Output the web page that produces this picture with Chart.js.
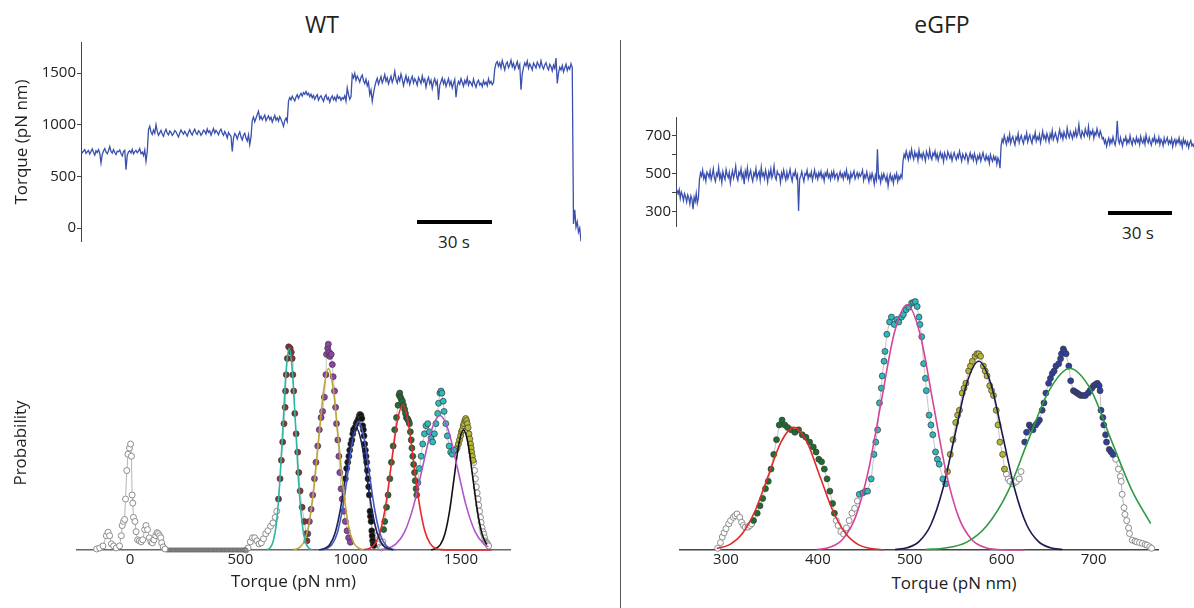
<!DOCTYPE html>
<html><head><meta charset="utf-8">
<script src="https://cdn.jsdelivr.net/npm/chart.js@4/dist/chart.umd.min.js"></script>
<style>
 body{margin:0;width:1194px;height:608px;overflow:hidden;background:#fff;font-family:"Open Sans",sans-serif;color:#222;position:relative}
 canvas{position:absolute}
 .lbl{position:absolute;white-space:nowrap;transform:translate(-50%,-50%);line-height:1}
 .bar{position:absolute;background:#000;height:4px}
</style></head><body>
<div class="lbl" style="left:322px;top:24px;font-size:23px">WT</div>
<div class="lbl" style="left:942px;top:24px;font-size:23px">eGFP</div>
<div style="position:absolute;left:620px;top:40px;width:1px;height:568px;background:#555"></div>
<div class="bar" style="left:417px;top:220px;width:75px"></div>
<div class="lbl" style="left:454px;top:241px;font-size:17px">30 s</div>
<div class="bar" style="left:1108px;top:211px;width:64px"></div>
<div class="lbl" style="left:1138px;top:232px;font-size:17px">30 s</div>
<div class="lbl" style="left:954px;top:582px;font-size:17px">Torque (pN nm)</div>

<canvas id="wtTrace" width="581" height="200" style="left:0;top:42px"></canvas>
<canvas id="gfpTrace" width="578" height="110" style="left:616px;top:117px"></canvas>
<canvas id="wtHist" width="515" height="264" style="left:0;top:331px"></canvas>
<canvas id="gfpHist" width="488" height="290" style="left:675px;top:290px"></canvas>

<script>
// ===== TRACES (torque, pN nm, every 0.5 s) =====
const wtStep=0.5;
const wtTorque=[
 752,728,745,760,722,738,751,716,741,765,733,706,748,730,759,724,630,712,745,768,736,719,748,790,742,725,760,731,712,744,738,755,721,697,739,752,565,705,736,748,726,761,717,738,752,729,744,768,720,735,702,755,645,738,
 952,985,930,905,948,918,1000,935,897,921,944,910,888,930,955,917,902,938,925,896,914,942,931,905,880,919,948,926,908,936,912,890,927,951,918,899,933,957,921,906,941,928,897,915,946,934,910,958,925,940,899,932,962,918,945,927,903,939,956,920,897,934,910,872,925,903,888,742,870,915,897,861,904,930,880,852,898,917,871,842,902,806,880,
 1040,1075,1028,1062,1098,1130,1055,1082,1046,1070,1093,1038,1064,1085,1049,1072,1026,1058,1090,1044,1067,1035,1078,1052,1020,984,1041,1063,1030,
 1228,1262,1240,1275,1251,1230,1268,1290,1255,1283,1302,1276,1310,1295,1322,1288,1305,1271,1296,1260,1284,1247,1272,1291,1238,1265,1280,1252,1226,1270,1289,1244,1263,1218,1258,1279,1241,1266,1232,1285,1254,1270,1236,1262,1249,1281,1228,1355,1290,1246,1273,
 1484,1452,1497,1430,1470,1445,1412,1458,1480,1425,1398,1440,1376,1410,1290,1335,1226,1302,1368,1415,1450,1392,1428,1466,1405,1438,1486,1420,1455,1395,
 1432,1470,1410,1448,1516,1436,1402,1462,1425,1490,1444,1378,1430,1474,1412,1452,1388,1436,1468,1405,1445,1420,1382,1456,1430,1398,1472,1416,1440,1362,
 1425,1458,1395,1430,1350,1412,1446,1388,1422,1240,1380,1415,1452,1396,1432,1370,1408,1445,1382,1420,1356,1400,1438,1265,1375,1418,1392,1446,1410,1372,
 1428,1398,1455,1384,1420,1402,1376,1440,1395,1362,1410,1430,1385,1402,1368,1425,1390,1412,1378,1445,1398,1420,1386,1408,
 1540,1592,1610,1565,1598,1548,1620,1575,1530,1588,1605,1552,1580,1625,1560,1594,1538,1572,1610,1548,1582,1339,1490,1555,1598,1570,1615,1545,1588,1562,
 1530,1596,1574,1548,1605,1580,1552,1618,1566,1540,1578,1600,1555,1530,1584,1562,1520,1575,1545,1645,1400,1498,1556,1530,1572,1510,1548,1585,1525,1560,1538,1590,1552,
 40,176,10,60,-40,0,-130
];
const gfpStep=0.5;
const gfpTorque=[
 428,412,395,418,372,405,388,360,396,380,352,390,374,342,385,366,314,378,355,398,346,372,
 470,505,488,520,476,495,462,510,498,482,515,470,493,527,480,461,502,489,534,476,
 498,455,512,486,470,523,495,480,508,452,490,517,478,502,541,485,466,509,493,527,
 479,500,446,514,488,531,472,496,519,483,461,505,490,528,475,498,512,468,535,489,
 503,476,520,494,458,510,487,526,480,499,541,485,470,513,496,498,455,505,482,520,
 491,468,509,477,498,524,486,462,503,492,517,478,495,305,471,489,512,484,460,501,
 493,519,476,498,485,510,467,494,521,482,499,472,507,488,513,479,496,463,504,490,
 516,481,497,470,508,486,514,477,495,502,468,490,511,484,499,473,506,488,520,476,
 493,461,505,482,498,515,474,491,507,480,502,487,500,520,466,494,479,510,483,458,
 497,472,503,481,446,492,469,630,478,488,455,496,474,501,483,462,490,437,476,499,
 468,485,451,493,477,502,460,488,472,495,481,
 568,602,585,620,596,574,611,588,630,598,577,615,592,606,571,624,589,603,580,612,
 595,568,618,600,584,627,591,576,609,597,620,582,605,571,596,614,587,603,565,610,
 592,578,616,599,583,606,570,595,612,588,574,601,585,619,593,567,604,589,577,608,
 596,562,590,611,583,598,572,607,586,560,594,579,603,568,591,612,584,570,598,575,
 589,556,601,580,566,593,575,588,551,584,570,530,
 648,682,665,701,676,655,690,672,708,661,684,697,670,652,693,679,711,664,688,702,
 675,659,696,683,715,668,690,705,677,661,699,686,718,672,694,681,707,663,690,724,
 686,701,675,712,693,668,709,688,727,680,698,715,690,671,706,732,694,712,683,720,
 699,688,741,707,691,722,704,685,718,700,732,696,713,759,708,690,725,711,697,736,
 715,702,748,693,721,709,730,688,717,704,738,712,695,726,708,684,
 690,662,678,645,671,688,656,680,663,694,669,652,684,779,676,660,691,667,648,682,
 673,695,658,679,664,701,670,652,686,675,660,692,668,681,654,697,673,662,688,657,
 705,676,663,690,668,651,684,672,698,661,679,666,693,655,682,670,648,688,663,676,
 690,657,674,661,685,643,670,682,652,677,664,689,656,672,641,683,660,674,650,668,
 638,662,676,648,657,640
];

// ===== WT HISTOGRAM [torque, probability] =====
const wtGrayA=[[-152,0.005],[-138,0.01],[-123,0.02],[-108,0.07],[-100,0.087],[-93,0.07],[-85,0.03],[-75,0.02],[-63,0.01],[-48,0.02],[-40,0.07],[-36,0.12],[-30,0.14],[-25,0.15],[-21,0.25],[-15,0.39],[-10,0.47],[-3,0.5],[2,0.52],[6,0.46],[9,0.27],[12,0.23],[15,0.16],[22,0.14],[27,0.09],[34,0.05],[42,0.045],[50,0.04],[57,0.05],[66,0.1],[72,0.12],[79,0.1],[87,0.06],[94,0.04],[101,0.035],[108,0.05],[116,0.07],[122,0.085],[128,0.08],[134,0.07],[139,0.06],[143,0.035],[150,0.015],[158,0.005]];
const wtGrayZero=[[166,0],[172,0],[178,0],[184,0],[190,0],[196,0],[202,0],[208,0],[214,0],[220,0],[226,0],[232,0],[238,0],[244,0],[250,0],[256,0],[262,0],[268,0],[274,0],[280,0],[286,0],[292,0],[298,0],[304,0],[310,0],[316,0],[322,0],[328,0],[334,0],[340,0],[346,0],[352,0],[358,0],[364,0],[370,0],[376,0],[382,0],[388,0],[394,0],[400,0],[406,0],[412,0],[418,0],[424,0],[430,0],[436,0],[442,0],[448,0],[454,0],[460,0],[466,0],[472,0],[478,0],[484,0],[490,0],[496,0],[502,0],[508,0],[514,0],[520,0],[526,0]];
const wtGrayRise=[[526,0],[535,0.01],[545,0.04],[555,0.06],[565,0.06],[575,0.045],[585,0.03],[595,0.035],[605,0.055],[615,0.08],[625,0.095],[637,0.117],[648,0.133],[658,0.16],[665,0.19]];
const wtGrayB=[[1108,0.03],[1113,0.06],[1118,0.07],[1123,0.05],[1129,0.03],[1135,0.015],[1141,0.01],[1146,0.04]];
const wtGrayC=[[1559,0.43],[1562,0.39],[1566,0.35],[1570,0.31],[1574,0.28],[1578,0.25],[1581,0.22],[1585,0.19],[1589,0.16],[1592,0.135],[1596,0.11],[1600,0.09],[1604,0.077],[1608,0.06],[1611,0.045],[1615,0.038],[1619,0.033],[1623,0.026],[1626,0.02]];
const wtDots1=[[673,0.25],[680,0.35],[686,0.44],[692,0.53],[698,0.62],[703,0.7],[705,0.78],[708,0.86],[713,0.94],[719,0.997],[726,0.99],[731,0.97],[735,0.94],[738,0.86],[742,0.78],[747,0.67],[753,0.57],[760,0.48],[765,0.38],[771,0.29],[780,0.21],[790,0.14],[798,0.08],[802,0.045]];
const wtDots2=[[806,0.08],[813,0.14],[821,0.2],[828,0.27],[836,0.35],[843,0.43],[851,0.51],[858,0.59],[866,0.65],[873,0.68],[881,0.75],[888,0.86],[891,0.96],[896,0.99],[899,1.01],[903,0.97],[906,0.95],[912,0.96],[917,0.91],[921,0.85],[927,0.78],[932,0.7],[936,0.62],[942,0.54],[947,0.46],[951,0.38],[957,0.3],[962,0.25],[969,0.19],[976,0.14],[984,0.094],[991,0.06],[999,0.038]];
const wtDots3=[[976,0.35],[982,0.4],[987,0.43],[992,0.46],[996,0.49],[1001,0.52],[1006,0.54],[1010,0.57],[1013,0.59],[1019,0.6],[1025,0.62],[1030,0.63],[1036,0.645],[1040,0.66],[1043,0.665],[1047,0.66],[1051,0.645],[1055,0.61],[1058,0.59],[1061,0.56],[1064,0.52],[1067,0.49],[1070,0.46],[1073,0.43],[1076,0.39],[1079,0.35],[1082,0.31],[1085,0.27],[1088,0.19],[1090,0.165],[1093,0.14],[1096,0.094],[1098,0.07],[1100,0.046],[1103,0.03],[1106,0.022]];
const wtDots4=[[1150,0.1],[1155,0.14],[1163,0.21],[1170,0.27],[1178,0.35],[1185,0.43],[1193,0.51],[1200,0.59],[1208,0.65],[1215,0.71],[1220,0.76],[1223,0.77],[1226,0.75],[1230,0.74],[1235,0.73],[1240,0.71],[1245,0.69],[1249,0.67],[1253,0.65],[1257,0.645],[1260,0.64],[1264,0.63],[1267,0.62],[1271,0.58],[1275,0.54],[1278,0.5],[1282,0.46],[1286,0.42],[1290,0.38],[1293,0.34],[1297,0.3],[1300,0.27]];
const wtDots5=[[1305,0.33],[1312,0.4],[1320,0.46],[1327,0.52],[1335,0.57],[1342,0.61],[1350,0.62],[1357,0.58],[1365,0.55],[1372,0.53],[1380,0.57],[1387,0.62],[1395,0.67],[1399,0.72],[1405,0.77],[1410,0.78],[1414,0.77],[1420,0.73],[1424,0.68],[1432,0.62],[1439,0.56],[1447,0.51],[1454,0.48],[1462,0.47],[1469,0.49]];
const wtDots6=[[1477,0.49],[1483,0.5],[1489,0.52],[1494,0.54],[1499,0.56],[1503,0.58],[1507,0.59],[1511,0.61],[1514,0.62],[1518,0.635],[1522,0.645],[1526,0.635],[1529,0.62],[1533,0.6],[1537,0.57],[1541,0.545],[1544,0.52],[1547,0.5],[1549,0.48],[1552,0.46],[1555,0.44]];
// fitted curves
const wtFit1=[[620,0.002],[635,0.011],[649,0.043],[664,0.134],[678,0.321],[693,0.6],[707,0.874],[722,0.99],[736,0.874],[751,0.6],[765,0.321],[780,0.134],[794,0.043],[809,0.011],[823,0.002]];
const wtFit2=[[742,0.002],[765,0.01],[788,0.039],[810,0.12],[832,0.289],[855,0.54],[878,0.785],[900,0.89],[922,0.785],[945,0.54],[968,0.289],[990,0.12],[1012,0.039],[1035,0.01],[1058,0.002]];
const wtFit3a=[[857,0.001],[881,0.007],[905,0.026],[929,0.081],[953,0.195],[977,0.364],[1001,0.53],[1025,0.6],[1049,0.53],[1073,0.364],[1097,0.195],[1121,0.081],[1145,0.026],[1169,0.007],[1193,0.001]];
const wtFit3b=[[868,0.001],[892,0.007],[916,0.028],[940,0.085],[964,0.205],[988,0.382],[1012,0.556],[1036,0.63],[1060,0.556],[1084,0.382],[1108,0.205],[1132,0.085],[1156,0.028],[1180,0.007],[1204,0.001]];
const wtFit4=[[1061,0.002],[1086,0.008],[1111,0.031],[1136,0.096],[1161,0.231],[1186,0.431],[1211,0.627],[1236,0.71],[1261,0.627],[1286,0.431],[1311,0.231],[1336,0.096],[1361,0.031],[1386,0.008],[1411,0.002],[1500,0],[1640,0]];
const wtFit5=[[1125,0.001],[1165,0.007],[1205,0.029],[1245,0.089],[1285,0.214],[1325,0.4],[1365,0.582],[1405,0.66],[1445,0.582],[1485,0.4],[1525,0.214],[1565,0.089],[1605,0.029],[1625,0.015]];
const wtFit6=[[1365,0.001],[1386,0.007],[1407,0.026],[1428,0.08],[1449,0.192],[1470,0.358],[1491,0.521],[1512,0.59],[1533,0.521],[1554,0.358],[1575,0.192],[1596,0.08],[1617,0.026]];

// ===== eGFP HISTOGRAM =====
const gfpGray1=[[291,0.007],[294,0.03],[296,0.053],[298,0.07],[300,0.087],[303,0.107],[305,0.12],[308,0.133],[310,0.14],[312,0.147],[315,0.133],[317,0.113],[319,0.1],[321,0.093],[324,0.093],[326,0.1],[328,0.107]];
const gfpGray2=[[420,0.12],[422,0.1],[425,0.075],[428,0.065],[431,0.09],[434,0.12],[437,0.15],[440,0.17],[443,0.2]];
const gfpGray3=[[605,0.31],[607,0.29],[609,0.28],[612,0.27],[614,0.275],[616,0.28],[619,0.29],[621,0.32]];
const gfpGray4=[[724,0.37],[727,0.33],[729,0.3],[730,0.28],[731,0.227],[733,0.173],[734,0.145],[736,0.12],[738,0.09],[739,0.067],[742,0.04],[745,0.036],[747,0.033],[750,0.03],[753,0.027],[756,0.023],[758,0.02],[761,0.013],[763,0.007]];
const gfpDots1=[[330,0.12],[334,0.15],[337,0.18],[340,0.21],[343,0.25],[346,0.28],[349,0.33],[352,0.39],[355,0.45],[358,0.51],[361,0.53],[364,0.51],[367,0.5],[371,0.49],[375,0.48],[379,0.49],[383,0.47],[387,0.46],[391,0.44],[395,0.42],[398,0.4],[401,0.37],[404,0.36],[407,0.33],[410,0.29],[413,0.24],[416,0.19],[418,0.15]];
const gfpDots2=[[445,0.227],[449,0.233],[452,0.24],[454,0.24],[458,0.29],[461,0.39],[463,0.44],[465,0.49],[467,0.6],[469,0.66],[470,0.71],[472,0.77],[473,0.81],[475,0.88],[478,0.93],[480,0.95],[483,0.92],[486,0.94],[488,0.93],[491,0.95],[493,0.96],[496,0.98],[499,0.99],[502,1.007],[504,1.01],[506,1.013],[508,0.993],[510,0.95],[511,0.92],[513,0.87],[515,0.76],[517,0.7],[518,0.65],[521,0.55],[523,0.51],[525,0.47],[528,0.4],[530,0.37],[532,0.35],[536,0.29],[539,0.27]];
const gfpDots3=[[541,0.32],[544,0.39],[547,0.45],[550,0.52],[552,0.55],[554,0.57],[557,0.64],[559,0.66],[561,0.68],[564,0.73],[566,0.75],[568,0.77],[571,0.79],[573,0.8],[575,0.8],[577,0.79],[580,0.75],[582,0.73],[584,0.71],[587,0.67],[589,0.65],[591,0.63],[594,0.57],[596,0.51],[598,0.44],[601,0.39],[603,0.33]];
const gfpDots4=[[625,0.44],[627,0.48],[630,0.51],[632,0.5],[634,0.49],[637,0.51],[639,0.52],[641,0.53],[644,0.57],[646,0.6],[648,0.64],[651,0.68],[653,0.7],[655,0.72],[657,0.73],[659,0.75],[662,0.76],[664,0.78],[665,0.8],[667,0.82],[668,0.81],[670,0.8],[673,0.75],[675,0.69],[678,0.65],[680,0.645],[682,0.64],[684,0.635],[686,0.63],[689,0.63],[691,0.63],[694,0.64],[696,0.65],[698,0.66],[700,0.67],[702,0.675],[704,0.68],[706,0.67],[707,0.65],[708,0.57],[710,0.54],[711,0.51],[713,0.47],[714,0.44],[717,0.41],[719,0.4],[721,0.39]];
const gfpFit1=[[290,0.006],[304,0.022],[318,0.068],[332,0.162],[346,0.303],[360,0.441],[374,0.5],[388,0.441],[402,0.303],[416,0.162],[430,0.068],[444,0.022],[458,0.006],[472,0.001]];
const gfpFit2=[[399,0.002],[413,0.011],[427,0.044],[441,0.135],[455,0.325],[469,0.607],[483,0.883],[497,1.0],[511,0.883],[525,0.607],[539,0.325],[553,0.135],[567,0.044],[581,0.011],[595,0.002],[625,0]];
const gfpFit3=[[484,0.002],[497,0.009],[510,0.034],[523,0.104],[536,0.25],[549,0.467],[562,0.68],[575,0.77],[588,0.68],[601,0.467],[614,0.25],[627,0.104],[640,0.034],[653,0.009],[666,0.002]];
const gfpFit4=[[517,0.002],[539,0.008],[562,0.032],[584,0.1],[607,0.24],[629,0.449],[652,0.653],[674,0.74],[697,0.653],[719,0.449],[742,0.24],[762,0.108]];

const wtTicksY=[0,500,1000,1500];
const gfpTicksY=[300,400,500,600,700];
const wtTicksX=[0,500,1000,1500];
const gfpTicksX=[300,400,500,600,700];

// ===== HELPERS =====
Chart.defaults.font.family='"Open Sans", sans-serif';
Chart.defaults.color='#222';

const pairs=a=>a.map(p=>({x:p[0],y:p[1]}));
const traceDs=(vals,dt)=>({data:vals.map((v,i)=>({x:i*dt,y:v})),showLine:true,borderColor:'#3a4fae',borderWidth:1.3,pointRadius:0});
const fitDs=(pts,c)=>({data:pairs(pts),showLine:true,borderColor:c,borderWidth:1.6,pointRadius:0,cubicInterpolationMode:'monotone',clip:false});
const dotDs=(pts,c)=>({data:pairs(pts),showLine:true,borderColor:'#c4c4c4',borderWidth:1,pointRadius:3,pointBackgroundColor:c,pointBorderColor:'#3a3a3a',pointBorderWidth:0.7,clip:false});
const hollowDs=(pts,r)=>({data:pairs(pts),showLine:true,borderColor:'#b4b4b4',borderWidth:1,pointRadius:r||3,pointBackgroundColor:'#fff',pointBorderColor:'#8c8c8c',pointBorderWidth:1,clip:false});
const zeroDs=pts=>({data:pairs(pts),showLine:true,borderColor:'#777',borderWidth:2,pointRadius:2,pointBackgroundColor:'#9a9a9a',pointBorderColor:'#666',pointBorderWidth:0.8,clip:false});

const plain=v=>String(v);
const setTicks=vals=>s=>{s.ticks=vals.map(v=>({value:v}));};
const fixW=w=>s=>{s.width=w;s.paddingTop=0;s.paddingBottom=0;};
const fixH=h=>s=>{s.height=h;s.paddingLeft=0;s.paddingRight=0;};

function makeChart(id,datasets,x,y){
 return new Chart(document.getElementById(id),{
  type:'scatter',
  data:{datasets:datasets},
  options:{responsive:false,animation:false,devicePixelRatio:1,events:[],
   layout:{padding:0},
   plugins:{legend:{display:false},tooltip:{enabled:false}},
   scales:{x:x,y:y}}
 });
}

// ===== TOP: TRACES =====
makeChart('wtTrace',[traceDs(wtTorque,wtStep)],
 {type:'linear',display:false,min:0,max:200},
 {type:'linear',min:-135,max:1800,afterBuildTicks:setTicks(wtTicksY),afterFit:fixW(81),
  ticks:{font:{size:15},color:'#222',padding:1,callback:plain},
  grid:{drawOnChartArea:false,drawTicks:true,tickLength:4,color:'#444'},
  border:{color:'#444',width:1},
  title:{display:true,text:'Torque (pN nm)',font:{size:17},color:'#222',padding:{top:12,bottom:0}}});

makeChart('gfpTrace',[traceDs(gfpTorque,gfpStep)],
 {type:'linear',display:false,min:0,max:243},
 {type:'linear',min:221,max:799,afterBuildTicks:setTicks(gfpTicksY),afterFit:fixW(60),
  ticks:{font:{size:15},color:'#222',padding:1,callback:v=>v%200===100?String(v):''},
  grid:{drawOnChartArea:false,drawTicks:true,tickLength:4,color:'#444'},
  border:{color:'#444',width:1}});

// ===== BOTTOM: HISTOGRAMS =====
makeChart('wtHist',[
  fitDs(wtFit1,'#2fb7a3'),fitDs(wtFit2,'#bca43a'),fitDs(wtFit3a,'#1d2359'),fitDs(wtFit3b,'#4659c0'),
  fitDs(wtFit4,'#e8282b'),fitDs(wtFit5,'#b055c8'),fitDs(wtFit6,'#111111'),
  dotDs(wtDots1,'#8a3434'),dotDs(wtDots2,'#8e44a6'),dotDs(wtDots3,'#111111'),dotDs(wtDots4,'#1e6e30'),
  dotDs(wtDots5,'#2bbcbc'),dotDs(wtDots6,'#b8b830'),
  hollowDs(wtGrayA),zeroDs(wtGrayZero),hollowDs(wtGrayRise),hollowDs(wtGrayB),hollowDs(wtGrayC)],
 {type:'linear',min:-241,max:1723,afterBuildTicks:setTicks(wtTicksX),afterFit:fixH(45),
  ticks:{font:{size:15},color:'#222',padding:1,callback:plain},
  grid:{display:false,drawTicks:false},
  border:{color:'#666',width:1.5},
  title:{display:true,text:'Torque (pN nm)',font:{size:17},color:'#222',padding:{top:0,bottom:3}}},
 {type:'linear',min:0,max:1.05,afterFit:fixW(77),
  ticks:{display:false},grid:{display:false,drawTicks:false},border:{display:false},
  title:{display:true,text:'Probability',font:{size:17},color:'#222',padding:{top:11,bottom:0}}});

makeChart('gfpHist',[
  fitDs(gfpFit1,'#e02a2a'),fitDs(gfpFit2,'#d4459a'),fitDs(gfpFit3,'#1a1a4e'),fitDs(gfpFit4,'#2e9a42'),
  dotDs(gfpDots1,'#1d6e2e'),dotDs(gfpDots2,'#2bb8be'),dotDs(gfpDots3,'#b6b634'),dotDs(gfpDots4,'#2f3f9f'),
  hollowDs(gfpGray1),hollowDs(gfpGray2),hollowDs(gfpGray3),hollowDs(gfpGray4)],
 {type:'linear',min:250,max:770,afterBuildTicks:setTicks(gfpTicksX),afterFit:fixH(30),
  ticks:{font:{size:15},color:'#222',padding:1,callback:plain},
  grid:{display:false,drawTicks:false},
  border:{color:'#444',width:1.5}},
 {type:'linear',display:false,min:0,max:1.04});
</script>
</body></html>
